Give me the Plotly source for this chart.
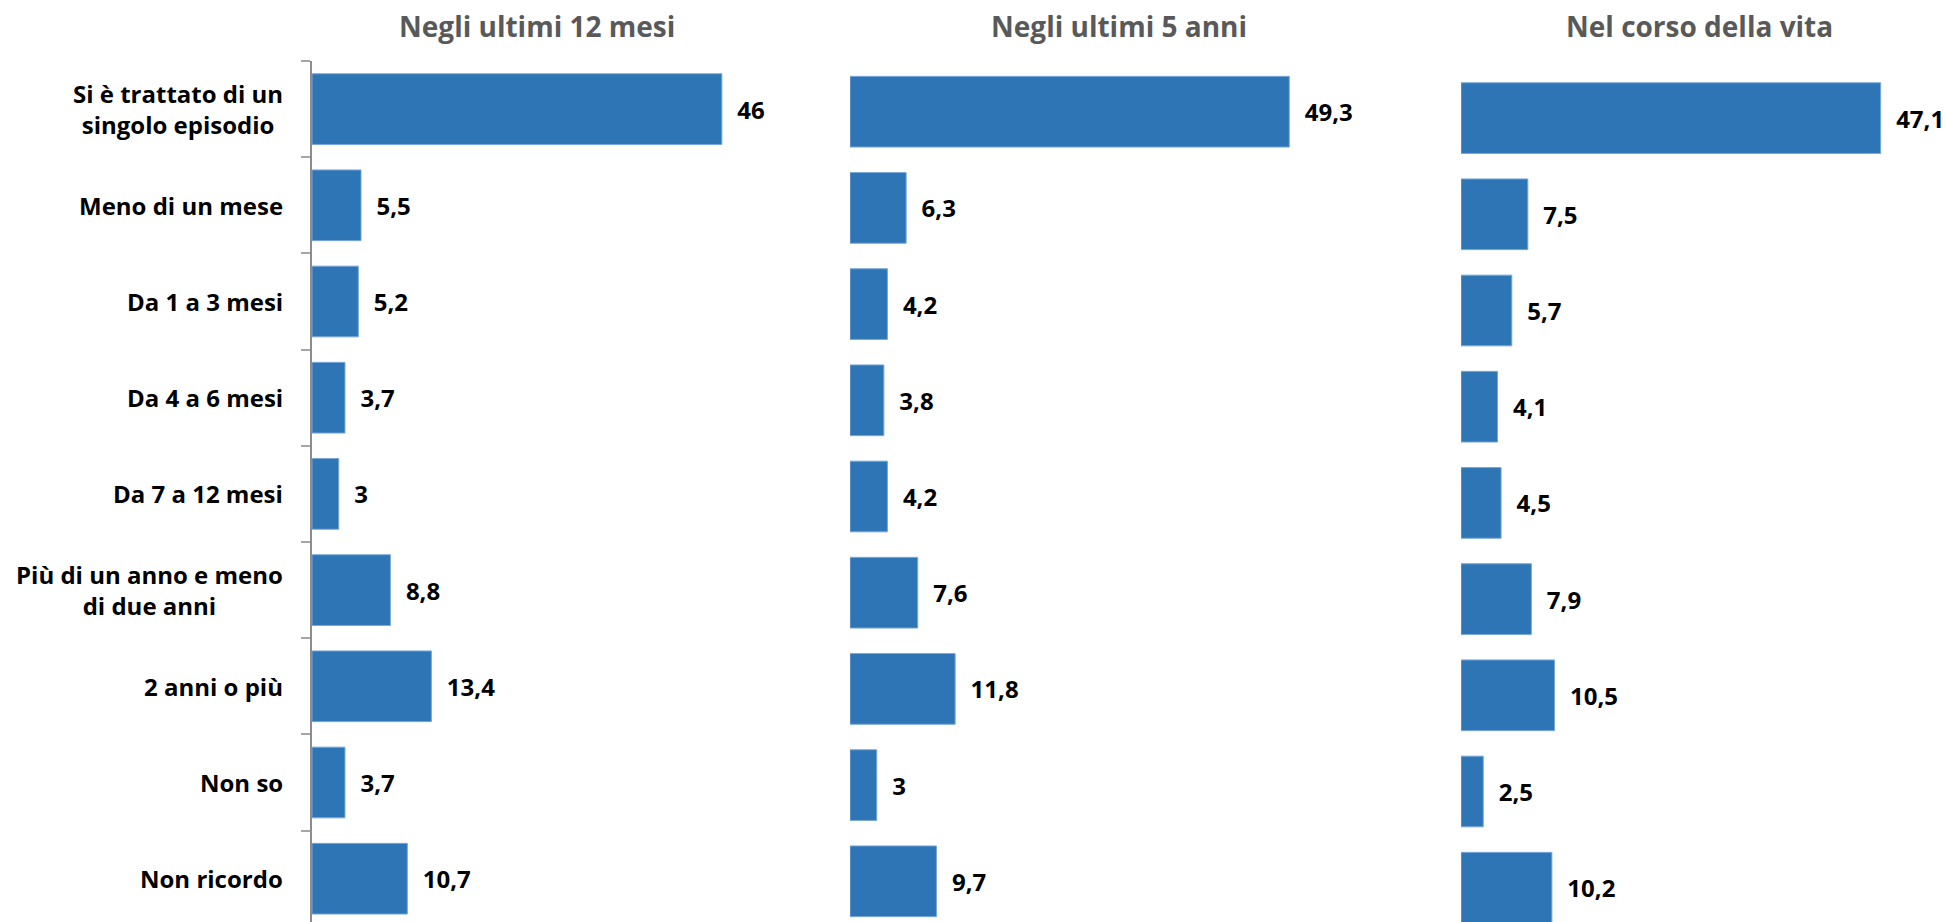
import plotly.graph_objects as go

categories = [
    "Si è trattato di un singolo episodio",
    "Meno di un mese",
    "Da 1 a 3 mesi",
    "Da 4 a 6 mesi",
    "Da 7 a 12 mesi",
    "Più di un anno e meno di due anni",
    "2 anni o più",
    "Non so",
    "Non ricordo",
]
category_labels = [
    "Si è trattato di un<br>singolo episodio",
    "Meno di un mese",
    "Da 1 a 3 mesi",
    "Da 4 a 6 mesi",
    "Da 7 a 12 mesi",
    "Più di un anno e meno<br>di due anni",
    "2 anni o più",
    "Non so",
    "Non ricordo",
]
panel_titles = ["Negli ultimi 12 mesi", "Negli ultimi 5 anni", "Nel corso della vita"]
values_12_mesi = [46, 5.5, 5.2, 3.7, 3, 8.8, 13.4, 3.7, 10.7]
values_5_anni = [49.3, 6.3, 4.2, 3.8, 4.2, 7.6, 11.8, 3, 9.7]
values_vita = [47.1, 7.5, 5.7, 4.1, 4.5, 7.9, 10.5, 2.5, 10.2]


def fmt(v):
    s = ("%g" % v).replace(".", ",")
    return "\u00a0\u00a0" + s


W, H = 1946, 922
PX_PER_UNIT = 8.91
BAND = 96.2
FONT = "Open Sans"
BAR_COLOR = "#2E75B6"

# panel geometry in pixels: (x_left, x_right, y_top)
panels = [(312, 800, 61), (850, 1400, 63.6), (1461, 1946, 70)]
series = [values_12_mesi, values_5_anni, values_vita]

fig = go.Figure()
for i, (vals, (xl, xr, yt)) in enumerate(zip(series, panels)):
    n = "" if i == 0 else str(i + 1)
    fig.add_trace(go.Bar(
        x=vals, y=categories, orientation="h",
        xaxis="x" + n, yaxis="y" + n,
        marker=dict(color=BAR_COLOR, line=dict(color="#7AA7D6", width=1)),
        text=[fmt(v) for v in vals], textposition="outside",
        textfont=dict(family=FONT, size=24, color="#000000", weight="bold"),
        cliponaxis=False, constraintext="none", showlegend=False,
        hoverinfo="skip",
    ))
    xdom = [xl / W, xr / W]
    ydom = [0, 1 - yt / H]
    yrange = [-0.5 + (H - yt) / BAND, -0.5]
    xa = dict(domain=xdom, range=[0, (xr - xl) / PX_PER_UNIT], visible=False,
              anchor="y" + n)
    ya = dict(domain=ydom, range=yrange, type="category",
              categoryorder="array", categoryarray=categories,
              showticklabels=False, showgrid=False, zeroline=False,
              anchor="x" + n)
    if i == 0:
        ya.update(showline=True, linecolor="#8C8C8C", linewidth=2,
                  ticks="outside", tickson="boundaries", ticklen=9,
                  tickcolor="#A6A6A6", tickwidth=1.5)
    else:
        ya.update(showline=False, ticks="")
    fig.update_layout(**{"xaxis" + n: xa, "yaxis" + n: ya})

annotations = []
title_x = [537, 1119, 1699]
for t, tx in zip(panel_titles, title_x):
    annotations.append(dict(
        text=t, x=tx / W, y=1 - 26 / H, xref="paper", yref="paper",
        xanchor="center", yanchor="middle", showarrow=False,
        font=dict(family=FONT, size=28, color="#595959", weight="bold"),
    ))
for cat, lab in zip(categories, category_labels):
    annotations.append(dict(
        text=lab, x=285 / W, y=cat, xref="paper", yref="y",
        xanchor="right", yanchor="middle", align="center", showarrow=False,
        font=dict(family=FONT, size=24, color="#000000", weight="bold"),
    ))

fig.update_layout(
    width=W, height=H,
    margin=dict(l=0, r=0, t=0, b=0),
    paper_bgcolor="white", plot_bgcolor="white",
    bargap=0.265,
    annotations=annotations,
)
fig.write_html(
    "out.html",
    config={"displayModeBar": False},
    post_script="document.body.style.margin='0px';"
                "document.documentElement.style.overflow='hidden';",
)
